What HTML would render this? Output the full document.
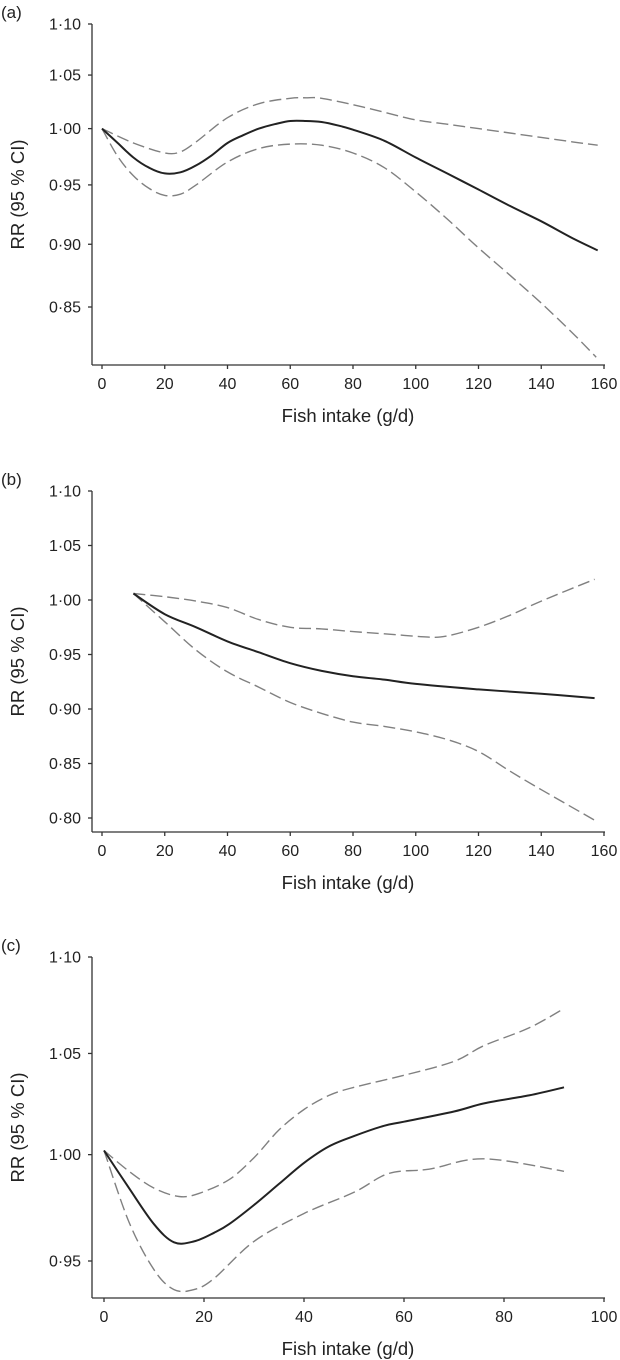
<!DOCTYPE html>
<html><head><meta charset="utf-8">
<style>
html,body{margin:0;padding:0;background:#fff;}
svg{display:block;font-family:"Liberation Sans",Arial,sans-serif;}
</style></head>
<body>
<svg id="fig" width="620" height="1360" viewBox="0 0 620 1360" xmlns="http://www.w3.org/2000/svg"></svg>
<script>
// Panel (a)
const aX = [0,5,10,15,20,25,30,35,40,45,50,55,60,65,70,75,80,90,100,110,120,130,140,150,158];
const aRR = [1.000,0.987,0.974,0.965,0.960,0.961,0.967,0.976,0.987,0.994,1.000,1.004,1.007,1.007,1.006,1.003,0.999,0.989,0.974,0.960,0.946,0.932,0.919,0.905,0.895];
const aUpX = [0,10,20,25,30,40,50,60,65,70,80,90,100,110,120,130,140,150,158];
const aUp = [1.000,0.987,0.978,0.979,0.988,1.010,1.023,1.028,1.0285,1.028,1.022,1.015,1.008,1.004,1.000,0.996,0.992,0.988,0.985];
const aLoX = [0,5,10,15,20,25,30,40,50,60,70,80,90,100,110,120,130,140,150,157.5];
const aLo = [1.000,0.975,0.958,0.947,0.941,0.942,0.950,0.970,0.982,0.986,0.985,0.978,0.965,0.944,0.921,0.897,0.875,0.853,0.830,0.812];
const aXTicks = [0,20,40,60,80,100,120,140,160];
const aYTicks = [1.10,1.05,1.00,0.95,0.90,0.85];
// Panel (b)
const bX = [10,20,30,40,50,60,70,80,90,100,120,140,157];
const bRR = [1.006,0.987,0.975,0.962,0.952,0.942,0.935,0.930,0.927,0.923,0.918,0.914,0.910];
const bUpX = [10,20,30,40,50,60,70,80,90,104,110,120,130,140,157];
const bUp = [1.006,1.003,0.999,0.993,0.982,0.975,0.9735,0.971,0.969,0.966,0.967,0.975,0.986,0.999,1.019];
const bLoX = [10,20,30,40,50,60,70,80,90,100,110,120,130,140,157];
const bLo = [1.006,0.980,0.954,0.934,0.920,0.906,0.896,0.888,0.884,0.879,0.872,0.861,0.843,0.826,0.798];
const bXTicks = [0,20,40,60,80,100,120,140,160];
const bYTicks = [1.10,1.05,1.00,0.95,0.90,0.85,0.80];
// Panel (c)
const cX = [0,5,10,14,18,22,25,30,35,40,45,50,56,60,70,76,85,92];
const cRR = [1.002,0.984,0.967,0.9586,0.959,0.963,0.967,0.976,0.986,0.996,1.004,1.009,1.014,1.016,1.021,1.025,1.029,1.033];
const cUpX = [0,5,10,15,19,25,30,35,40,45,50,60,70,76,85,92];
const cUp = [1.002,0.992,0.984,0.980,0.9815,0.988,0.9985,1.012,1.022,1.029,1.033,1.039,1.046,1.054,1.063,1.073];
const cLoX = [0,5,10,14,18,22,30,40,50,57,65,76,92];
const cLo = [1.002,0.968,0.946,0.937,0.937,0.942,0.959,0.972,0.982,0.991,0.993,0.998,0.992];
const cXTicks = [0,20,40,60,80,100];
const cYTicks = [1.10,1.05,1.00,0.95];

const NS = "http://www.w3.org/2000/svg";
const svg = document.getElementById('fig');
function mk(tag, attrs, parent){
  const e = document.createElementNS(NS, tag);
  for (const k in attrs) e.setAttribute(k, attrs[k]);
  (parent||svg).appendChild(e);
  return e;
}
function fmt(v){ return v.toFixed(2).replace('.', '\u00b7'); }
function smooth(p){
  let d = 'M' + p[0][0].toFixed(1) + ',' + p[0][1].toFixed(1);
  for (let i=0;i<p.length-1;i++){
    const p0 = p[Math.max(0,i-1)], p1 = p[i], p2 = p[i+1], p3 = p[Math.min(p.length-1,i+2)];
    const c1 = [p1[0]+(p2[0]-p0[0])/6, p1[1]+(p2[1]-p0[1])/6];
    const c2 = [p2[0]-(p3[0]-p1[0])/6, p2[1]-(p3[1]-p1[1])/6];
    d += ' C' + c1[0].toFixed(1)+','+c1[1].toFixed(1)+' '+c2[0].toFixed(1)+','+c2[1].toFixed(1)+' '+p2[0].toFixed(1)+','+p2[1].toFixed(1);
  }
  return d;
}

function panel(cfg){
  const g = mk('g', {});
  
  
  const tr = cfg.log ? Math.log : (v=>v);
  const t0 = tr(cfg.yTop), t1 = tr(cfg.yRef);
  const sy = v => cfg.yTopPx + (t0 - tr(v)) / (t0 - t1) * (cfg.yRefPx - cfg.yTopPx);
  const sx = v => cfg.x0Px + (v - cfg.xMin) / (cfg.xMax - cfg.xMin) * (cfg.x1Px - cfg.x0Px);
  const ya = mk('line', {x1:92, y1:cfg.yTopPx, x2:92, y2:cfg.bottomPx, stroke:'#333', 'stroke-width':1.3}, g);
  
  
  const xa = mk('line', {x1:92, y1:cfg.bottomPx, x2:605, y2:cfg.bottomPx, stroke:'#333', 'stroke-width':1.3}, g);
  
  
  cfg.yTicks.forEach(v=>{
    const y = sy(v);
    mk('line', {x1:88, y1:y, x2:92, y2:y, stroke:'#333', 'stroke-width':1.3}, g);
    const t = mk('text', {x:81, y:y+5.5, 'text-anchor':'end', 'font-size':16, fill:'#222'}, g);
    
    
    t.textContent = fmt(v);
  });
  cfg.xTicks.forEach(v=>{
    const x = sx(v);
    mk('line', {x1:x, y1:cfg.bottomPx, x2:x, y2:cfg.bottomPx+4, stroke:'#333', 'stroke-width':1.3}, g);
    const t = mk('text', {x:x, y:cfg.bottomPx+24, 'text-anchor':'middle', 'font-size':16, fill:'#222'}, g);
    
    
    t.textContent = String(v);
  });
  const xt = mk('text', {x:348, y:cfg.bottomPx+57, 'text-anchor':'middle', 'font-size':18.5, fill:'#222'}, g);
  
  
  xt.textContent = 'Fish intake (g/d)';
  const my = (cfg.yTopPx + cfg.bottomPx)/2;
  const yt = mk('text', {x:0, y:0, 'text-anchor':'middle', 'font-size':18.5, fill:'#222', transform:'translate(24,'+my+') rotate(-90)'}, g);
  
  
  yt.textContent = 'RR (95 % CI)';
  const pl = mk('text', {x:1, y:cfg.yTopPx-6, 'font-size':17, fill:'#222'}, g);
  
  
  pl.textContent = '(' + cfg.id + ')';
  function line(xs, ys, dashed, name){
    const pts = xs.map((x,i)=>[sx(x), sy(ys[i])]);
    const p = mk('path', {d:smooth(pts), fill:'none',
      stroke: dashed ? '#808080' : '#222', 'stroke-width': dashed ? 1.4 : 2,
      'stroke-linejoin':'round'}, g);
    if (dashed) p.setAttribute('stroke-dasharray', '12 5');
    
    
  }
  line(cfg.upX, cfg.up, true, 'upper-ci-line');
  line(cfg.loX, cfg.lo, true, 'lower-ci-line');
  line(cfg.xs, cfg.rr, false, 'rr-line');
}

panel({id:'a', log:true, yTop:1.10, yRef:0.85, yTopPx:24, yRefPx:307, bottomPx:365,
  xMin:0, xMax:160, x0Px:102, x1Px:604, xTicks:aXTicks, yTicks:aYTicks,
  xs:aX, rr:aRR, upX:aUpX, up:aUp, loX:aLoX, lo:aLo});
panel({id:'b', log:false, yTop:1.10, yRef:0.80, yTopPx:491, yRefPx:818, bottomPx:832,
  xMin:0, xMax:160, x0Px:102, x1Px:604, xTicks:bXTicks, yTicks:bYTicks,
  xs:bX, rr:bRR, upX:bUpX, up:bUp, loX:bLoX, lo:bLo});
panel({id:'c', log:true, yTop:1.10, yRef:0.95, yTopPx:957, yRefPx:1261, bottomPx:1298,
  xMin:0, xMax:100, x0Px:104, x1Px:604, xTicks:cXTicks, yTicks:cYTicks,
  xs:cX, rr:cRR, upX:cUpX, up:cUp, loX:cLoX, lo:cLo});
</script>
</body></html>
